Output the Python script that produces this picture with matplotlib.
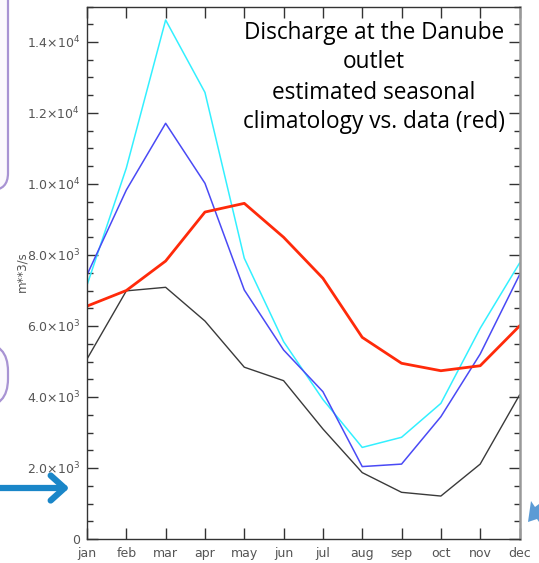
import numpy as np
import matplotlib.pyplot as plt
from matplotlib.patches import FancyBboxPatch, FancyArrowPatch, Polygon
from matplotlib.ticker import MultipleLocator

# -----------------------------
# Data
# -----------------------------
months = ["jan", "feb", "mar", "apr", "may", "jun",
          "jul", "aug", "sep", "oct", "nov", "dec"]

clim_cyan = [7150, 10450, 14620, 12580, 7910, 5560, 3930, 2580, 2865, 3820, 5935, 7770]
clim_blue = [7440, 9830, 11710, 10020, 7015, 5325, 4150, 2040, 2110, 3445, 5210, 7440]
clim_black = [5070, 6990, 7090, 6140, 4840, 4460, 3100, 1870, 1315, 1210, 2110, 4055]
data_red = [6560, 7000, 7830, 9210, 9455, 8500, 7345, 5680, 4950, 4740, 4880, 6000]

ytick_vals = [0, 2000, 4000, 6000, 8000, 10000, 12000, 14000]
ytick_labels = ["0",
                r"2.0$\times$10$^3$", r"4.0$\times$10$^3$", r"6.0$\times$10$^3$",
                r"8.0$\times$10$^3$", r"1.0$\times$10$^4$", r"1.2$\times$10$^4$",
                r"1.4$\times$10$^4$"]

title_lines = ["Discharge at the Danube", "outlet",
               "estimated seasonal", "climatology vs. data (red)"]

W, H = 539, 563


def px(x, y):
    """pixel (from top-left) -> figure fraction"""
    return x / W, 1 - y / H


fig = plt.figure(figsize=(W / 100, H / 100), dpi=100)
ax = fig.add_axes([87 / W, 1 - 539 / H, (519.5 - 87) / W, (539 - 6.5) / H])

x = np.arange(len(months))
ax.plot(x, clim_black, color="#3a3a3a", lw=1.0)
ax.plot(x, clim_cyan, color="#33f0ff", lw=1.1)
ax.plot(x, clim_blue, color="#4a4af5", lw=1.1)
ax.plot(x, data_red, color="#ff2a0a", lw=2.0)

ax.set_xlim(0, 11)
ax.set_ylim(0, 15000)
ax.set_xticks(x)
ax.set_xticklabels(months)
ax.set_yticks(ytick_vals)
ax.set_yticklabels(ytick_labels)
ax.yaxis.set_minor_locator(MultipleLocator(500))

ax.tick_params(axis="both", which="major", direction="in", length=8, width=1,
               color="#333333", labelsize=9, labelcolor="#555555",
               top=True, right=True)
ax.tick_params(axis="x", which="major", pad=6)
ax.tick_params(axis="y", which="major", pad=5)
ax.tick_params(axis="y", which="minor", direction="in", length=4, width=1,
               color="#333333", right=True)
for side in ["left", "bottom", "top"]:
    ax.spines[side].set_color("#333333")
    ax.spines[side].set_linewidth(1.0)
ax.spines["right"].set_color("#999999")
ax.spines["right"].set_linewidth(1.8)

fig.text(*px(22, 272), "m**3/s", rotation=90, ha="center", va="center",
         fontsize=8.5, color="#555555")

# title block typed over the plot
for line, yb in zip(title_lines, [39, 68, 99, 128]):
    fig.text(*px(374, yb), line, ha="center", va="baseline",
             fontsize=16.3, family="Open Sans", color="black")

# slide decorations around the chart
x0, y0 = px(-60, 190)
x1, y1 = px(8, -40)
fig.patches.append(FancyBboxPatch((x0, y0), x1 - x0, y1 - y0,
                                  boxstyle="round,pad=0,rounding_size=0.03",
                                  transform=fig.transFigure, fc="#fbf9fd",
                                  ec="#a893d3", lw=1.6, zorder=0))
x0, y0 = px(-60, 407)
x1, y1 = px(8, 343)
fig.patches.append(FancyBboxPatch((x0, y0), x1 - x0, y1 - y0,
                                  boxstyle="round,pad=0,rounding_size=0.05",
                                  transform=fig.transFigure, fc="#fbf9fd",
                                  ec="#a893d3", lw=1.6, zorder=0))
fig.patches.append(FancyArrowPatch(px(-5, 488), px(72, 488),
                                   transform=fig.transFigure,
                                   arrowstyle="->,head_length=0.5,head_width=0.45",
                                   mutation_scale=20, color="#1a86c8", lw=4.5,
                                   capstyle="round", joinstyle="round"))
fig.patches.append(Polygon([px(528, 522), px(531, 501), px(535, 507),
                            px(539, 504), px(539, 522), px(537, 519)],
                           closed=True, transform=fig.transFigure,
                           fc="#5b9bd5", ec="none"))

fig.savefig("out.png", dpi=100)
